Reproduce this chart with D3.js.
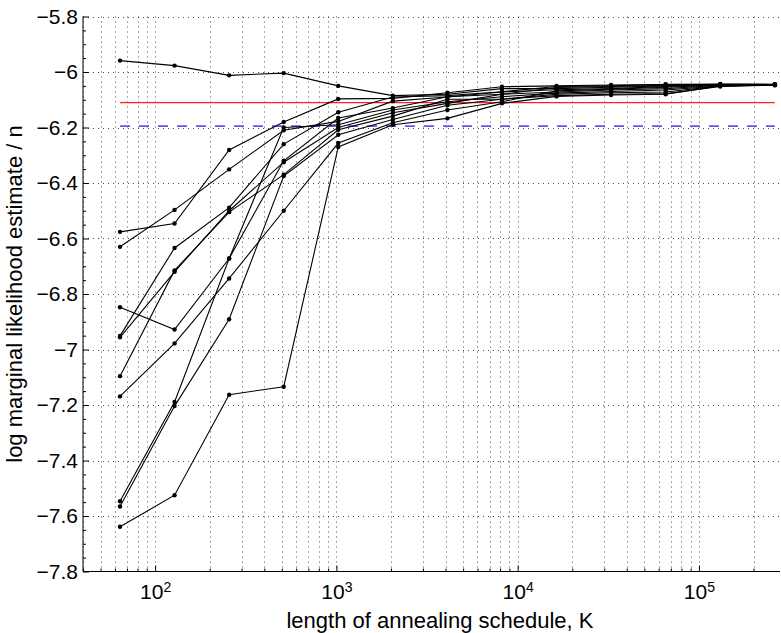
<!DOCTYPE html>
<html>
<head>
<meta charset="utf-8">
<script src="https://cdn.jsdelivr.net/npm/d3@7"></script>
<style>
  body { margin: 0; background: #fff; }
  svg { display: block; font-family: "Liberation Sans", Arial, sans-serif; }
</style>
</head>
<body>
<svg id="chart" width="781" height="633"></svg>
<script>
// length of annealing schedule
const kValues = [64, 128, 256, 512, 1024, 2048, 4096, 8192, 16384, 32768, 65536, 131072, 262144];

// one array per annealing run
const runA = [-5.959, -5.977, -6.012, -6.004, -6.050, -6.085, -6.080, -6.060, -6.060, -6.055, -6.050, -6.047, -6.045];
const runB = [-6.576, -6.546, -6.281, -6.180, -6.097, -6.095, -6.075, -6.053, -6.050, -6.047, -6.045, -6.043, -6.044];
const runC = [-6.630, -6.497, -6.351, -6.210, -6.178, -6.105, -6.090, -6.072, -6.064, -6.060, -6.052, -6.046, -6.046];
const runD = [-6.848, -6.928, -6.672, -6.200, -6.190, -6.137, -6.107, -6.089, -6.076, -6.070, -6.065, -6.050, -6.047];
const runE = [-6.951, -6.634, -6.489, -6.260, -6.145, -6.090, -6.085, -6.071, -6.052, -6.050, -6.044, -6.045, -6.045];
const runF = [-6.956, -6.720, -6.500, -6.325, -6.200, -6.147, -6.113, -6.080, -6.056, -6.052, -6.048, -6.044, -6.046];
const runG = [-7.096, -6.715, -6.505, -6.370, -6.208, -6.159, -6.098, -6.098, -6.080, -6.075, -6.072, -6.050, -6.048];
const runH = [-7.169, -6.978, -6.744, -6.500, -6.256, -6.183, -6.137, -6.107, -6.068, -6.062, -6.055, -6.047, -6.045];
const runI = [-7.547, -7.189, -6.672, -6.320, -6.166, -6.130, -6.089, -6.080, -6.072, -6.065, -6.060, -6.048, -6.046];
const runJ = [-7.566, -7.204, -6.891, -6.375, -6.226, -6.171, -6.120, -6.098, -6.085, -6.080, -6.078, -6.052, -6.047];
const runK = [-7.639, -7.525, -7.163, -7.134, -6.270, -6.190, -6.167, -6.113, -6.088, -6.083, -6.080, -6.050, -6.046];
const runs = [runA, runB, runC, runD, runE, runF, runG, runH, runI, runJ, runK];

// reference levels
const redLevel = -6.110;
const blueLevel = -6.195;

const yTicks = [-7.8, -7.6, -7.4, -7.2, -7, -6.8, -6.6, -6.4, -6.2, -6, -5.8];
const xMajor = [1e2, 1e3, 1e4, 1e5];

const svg = d3.select('#chart');
const plotLeft = 83, plotRight = 780, plotTop = 16.5, plotBottom = 571.5;

const x = d3.scaleLog().domain([40, 280000]).range([plotLeft, plotRight]);
const y = d3.scaleLinear().domain([-7.8, -5.8]).range([plotBottom, plotTop]);

// all log positions 2..9 x 10^n inside the domain
let xMinor = [];
for (let e = 1; e <= 5; e++) {
    for (let m = 2; m <= 9; m++) {
        let v = m * Math.pow(10, e);
        if (v >= 40 && v <= 280000) xMinor.push(v);
    }
}
let yMinor = d3.range(-7.8, -5.79, 0.05).filter((v) => Math.abs(v * 5 - Math.round(v * 5)) > 1e-6);

// dotted grid
const grid = svg.append('g').attr('stroke', '#000').attr('stroke-width', 1)
    .attr('stroke-dasharray', '1,4').attr('fill', 'none');
grid.selectAll('line.gx')
    .data(xMinor.concat(xMajor))
    .enter().append('line')
    .attr('x1', (d) => Math.round(x(d)) + 0.5).attr('x2', (d) => Math.round(x(d)) + 0.5)
    .attr('y1', plotTop).attr('y2', plotBottom)
    .attr('stroke-opacity', 0.7);
grid.selectAll('line.gy')
    .data(yTicks.slice(1))
    .enter().append('line')
    .attr('x1', plotLeft).attr('x2', plotRight)
    .attr('y1', (d) => Math.round(y(d)) + 0.5).attr('y2', (d) => Math.round(y(d)) + 0.5)
    .attr('stroke-opacity', 0.7);

// axes
const fmtY = (d) => String(+d.toFixed(1)).replace('-', '\u2212');

svg.append('g')
    .attr('transform', `translate(${plotLeft},0)`)
    .call(d3.axisLeft(y).tickValues(yMinor).tickSize(-3).tickFormat(''))
    .call((g) => g.select('.domain').remove());

const yAxis = svg.append('g')
    .attr('transform', `translate(${plotLeft},0)`)
    .call(d3.axisLeft(y).tickValues(yTicks).tickSize(-6).tickPadding(5).tickFormat(fmtY));
yAxis.select('.domain').attr('d', `M0,${plotTop}V${plotBottom}`);
yAxis.selectAll('text').attr('font-size', 21).attr('fill', '#000')
    .attr('font-family', '"Liberation Sans", Arial, sans-serif');

svg.append('g')
    .attr('transform', `translate(0,${plotBottom})`)
    .call(d3.axisBottom(x).tickValues(xMinor).tickSize(-3).tickFormat(''))
    .call((g) => g.select('.domain').remove());

const xAxis = svg.append('g')
    .attr('transform', `translate(0,${plotBottom})`)
    .call(d3.axisBottom(x).tickValues(xMajor).tickSize(-6).tickPadding(13).tickFormat(() => '10'));
xAxis.select('.domain').attr('d', `M${plotLeft},0H${plotRight}`);
xAxis.selectAll('text')
    .attr('font-size', 21).attr('fill', '#000')
    .attr('font-family', '"Liberation Sans", Arial, sans-serif')
    .each(function (d) {
        d3.select(this).append('tspan')
            .attr('dy', '-0.55em').attr('font-size', 14)
            .text(Math.round(Math.log10(d)));
    });

// reference lines
svg.append('line')
    .attr('x1', x(kValues[0])).attr('x2', x(kValues[kValues.length - 1]))
    .attr('y1', y(redLevel)).attr('y2', y(redLevel))
    .attr('stroke', '#ff2020').attr('stroke-width', 1.3);
svg.append('line')
    .attr('x1', x(kValues[0])).attr('x2', x(kValues[kValues.length - 1]))
    .attr('y1', y(blueLevel)).attr('y2', y(blueLevel))
    .attr('stroke', '#5a5af0').attr('stroke-width', 1.6)
    .attr('stroke-dasharray', '10,9');

// runs
const line = d3.line().x((d, i) => x(kValues[i])).y((d) => y(d));
const runLayer = svg.append('g');
runs.forEach((r) => {
    runLayer.append('path')
        .attr('d', line(r))
        .attr('fill', 'none').attr('stroke', '#000').attr('stroke-width', 1.1);
    runLayer.selectAll(null)
        .data(r)
        .enter().append('circle')
        .attr('cx', (d, i) => x(kValues[i])).attr('cy', (d) => y(d))
        .attr('r', 2.2).attr('fill', '#000');
});

// axis labels
svg.append('text')
    .attr('x', 440).attr('y', 628)
    .attr('text-anchor', 'middle').attr('font-size', 22)
    .text('length of annealing schedule, K');
svg.append('text')
    .attr('transform', `translate(22,${(plotTop + plotBottom) / 2}) rotate(-90)`)
    .attr('text-anchor', 'middle').attr('font-size', 22)
    .text('log marginal likelihood estimate / n');
</script>
</body>
</html>
